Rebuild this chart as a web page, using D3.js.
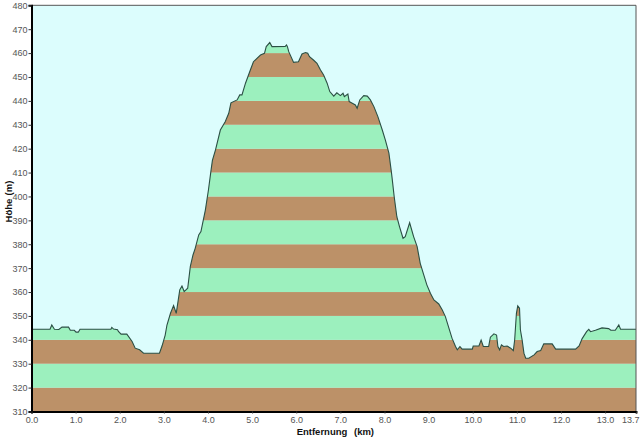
<!DOCTYPE html>
<html><head><meta charset="utf-8">
<script src="https://cdn.jsdelivr.net/npm/d3@7"></script>
<style>body{margin:0;background:#fff;}svg{display:block;font-family:Arial,"Liberation Sans",sans-serif;}</style>
</head><body>
<svg id="c" width="640" height="439"></svg>
<script>
const dist = [0,0.42,0.46,0.52,0.62,0.69,0.84,0.88,0.97,1.01,1.06,1.1,1.8,1.82,1.86,1.95,1.97,2.03,2.16,2.28,2.35,2.45,2.54,2.9,2.96,3.03,3.07,3.15,3.22,3.28,3.36,3.41,3.46,3.54,3.60,3.66,3.71,3.79,3.84,3.94,4.01,4.07,4.10,4.17,4.28,4.39,4.47,4.52,4.66,4.72,4.77,4.85,4.96,5.03,5.11,5.19,5.28,5.32,5.40,5.45,5.75,5.78,5.80,5.83,5.94,6.05,6.13,6.21,6.26,6.30,6.39,6.47,6.55,6.62,6.70,6.76,6.85,6.92,7.00,7.06,7.09,7.17,7.20,7.27,7.34,7.38,7.44,7.53,7.61,7.68,7.76,7.85,7.95,8.02,8.10,8.15,8.17,8.22,8.28,8.34,8.42,8.47,8.57,8.66,8.74,8.81,8.89,8.96,9.04,9.12,9.23,9.31,9.38,9.46,9.53,9.61,9.65,9.71,9.76,9.99,10.01,10.14,10.19,10.24,10.36,10.40,10.48,10.54,10.57,10.61,10.65,10.70,10.78,10.86,10.92,10.95,10.99,11.02,11.06,11.08,11.12,11.16,11.20,11.27,11.39,11.46,11.54,11.61,11.80,11.88,12.33,12.41,12.48,12.58,12.63,12.67,12.78,12.93,13.08,13.13,13.23,13.31,13.35,13.7];
const elev = [344.4,344.4,346.2,344.4,344.3,345.3,345.3,344,344,343.2,343.2,344.4,344.4,345.2,344.5,344.2,343.5,342.4,342.4,339.3,336.5,335.8,334.4,334.4,337.5,342,346.2,351.1,354.3,351.1,360.9,362.5,360.2,361.6,370.7,375.5,378.3,383.9,385.3,394.3,402.7,411.1,415.1,419.5,427.8,431.3,434.8,439.2,440.4,442.5,442.5,447.4,452.9,456.4,457.8,459.2,459.9,462.7,464.4,462.7,462.8,463.4,462.7,460.6,456.1,456.4,459.6,460.2,459.9,458.5,457.1,455.7,452.9,450.8,447.4,443.9,442,443.4,442.2,443.2,441.8,442.9,439.7,439,438.3,436.9,440.4,442.2,442,440.4,437.6,433.4,427.8,423.6,418.1,411.1,408.1,399.9,391.5,387.4,382.5,383.2,389,383.2,379,372,367.2,363,359.5,356.7,355,352.5,349.7,344.9,340.7,337.2,335.8,337.2,336.1,336.1,337.4,337.4,339.9,337.2,337.2,341.1,342.5,342,337.2,335.8,337.9,337.2,337.4,336.5,335.5,339.9,351.1,354.2,353.2,344.2,339.9,334.4,332.3,332.3,333.7,335.1,335.5,338.3,338.3,336.1,336.1,337.4,340.5,343.4,344.4,343.4,344,345,344.7,344,344,346.2,344.4,344.4];
const xTicks = [0,1,2,3,4,5,6,7,8,9,10,11,12,13,13.7];
const yTicks = [310,320,330,340,350,360,370,380,390,400,410,420,430,440,450,460,470,480];
const xTitle = ["Entfernung","(km)"];
const yTitle = ["Höhe","(m)"];

const svg = d3.select("#c");
const L=31.5, R=636, T=5.3, B=411.5;
const x = d3.scaleLinear().domain([0,13.7]).range([L,R]);
const y = d3.scaleLinear().domain([310,480]).range([B,T]);
const pts = dist.map((d,i)=>[d,elev[i]]);

svg.append("rect").attr("x",L).attr("y",T).attr("width",R-L).attr("height",B-T).attr("fill","#dcfdfd");

const area = d3.area().x(d=>x(d[0])).y0(y(310)).y1(d=>y(d[1]));
svg.append("clipPath").attr("id","clip").append("path").attr("d",area(pts));
const bands = svg.append("g").attr("clip-path","url(#clip)");
bands.selectAll("rect").data(yTicks.slice(0,-1)).join("rect")
  .attr("x",L).attr("width",R-L)
  .attr("y",d=>y(d+10)).attr("height",d=>y(d)-y(d+10))
  .attr("fill",(d,i)=>i%2===0?"#bc9168":"#9cf0be");

const line = d3.line().x(d=>x(d[0])).y(d=>y(d[1]));
svg.append("path").attr("d",line(pts)).attr("fill","none").attr("stroke","#2b4f44").attr("stroke-width",1.1);

// frame
svg.append("line").attr("x1",L).attr("x2",R).attr("y1",T).attr("y2",T).attr("stroke","#555").attr("stroke-width",1);
svg.append("line").attr("x1",R).attr("x2",R).attr("y1",T).attr("y2",B).attr("stroke","#555").attr("stroke-width",1);

const yAxis = svg.append("g").attr("transform",`translate(${L},0)`)
  .call(d3.axisLeft(y).tickValues(yTicks).tickSize(3).tickPadding(1).tickFormat(d3.format("d")));
const xAxis = svg.append("g").attr("transform",`translate(0,${B})`)
  .call(d3.axisBottom(x).tickValues(xTicks).tickSize(2).tickPadding(3).tickFormat(d3.format(".1f")));
[yAxis,xAxis].forEach(g=>{
  g.select(".domain").attr("stroke","#000").attr("stroke-width",2);
  g.selectAll(".tick line").attr("stroke","#333");
  g.selectAll("text").attr("fill","#555").style("font-size","9px").style("font-family","Arial, 'Liberation Sans', sans-serif");
});
xAxis.select(".tick:last-of-type text").attr("text-anchor","end").attr("dx","3");

svg.append("text").attr("x",322).attr("y",435).attr("text-anchor","middle")
  .style("font-size","9.5px").style("font-weight","bold").attr("fill","#111").text(xTitle[0]);
svg.append("text").attr("x",364).attr("y",435).attr("text-anchor","middle")
  .style("font-size","9.5px").style("font-weight","bold").attr("fill","#111").text(xTitle[1]);
svg.append("text").attr("transform","translate(11.5,210.5) rotate(-90)").attr("text-anchor","middle")
  .style("font-size","9.5px").style("font-weight","bold").attr("fill","#111").text(yTitle[0]);
svg.append("text").attr("transform","translate(11.5,188) rotate(-90)").attr("text-anchor","middle")
  .style("font-size","9.5px").style("font-weight","bold").attr("fill","#111").text(yTitle[1]);
</script>
</body></html>
